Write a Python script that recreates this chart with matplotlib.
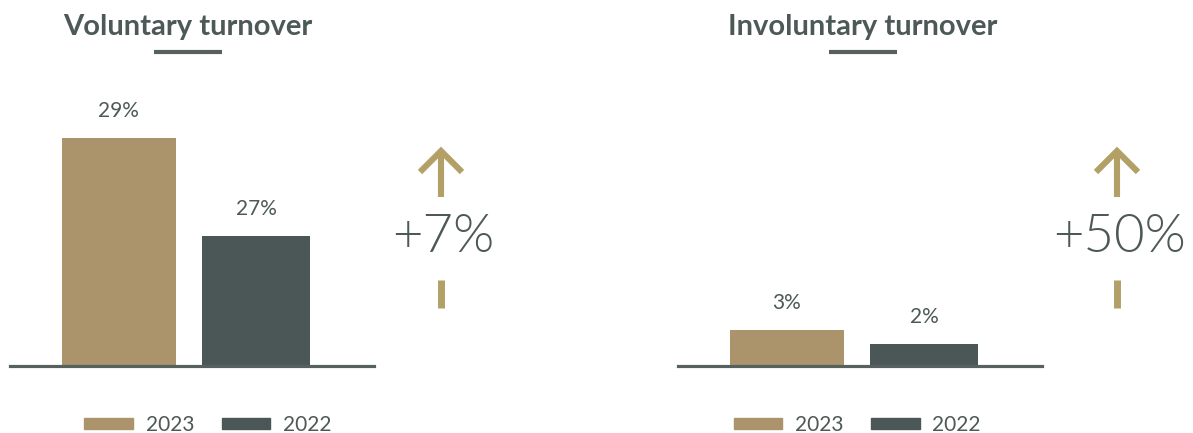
import matplotlib.pyplot as plt
from matplotlib.patches import Patch

W, H = 1193, 433

# turnover figures, per year
years = ['2023', '2022']
voluntary = [29, 27]
involuntary = [3, 2]
titles = ['Voluntary turnover', 'Involuntary turnover']
changes = ['+7%', '+50%']

tan = '#ab936b'
slate = '#4b5756'
ink = '#4d5957'
gold = '#b3a067'

plt.rcParams['font.family'] = ['Lato', 'DejaVu Sans']

fig = plt.figure(figsize=(W / 100, H / 100), dpi=100)


def px_axes(x0, y0, x1, y1):
    # axes placed by pixel box (top-left origin)
    return fig.add_axes([x0 / W, 1 - y1 / H, (x1 - x0) / W, (y1 - y0) / H])


# layout of each panel: plot box, y range, title centre, arrow column
layout = [
    dict(box=(10, 60, 374, 366), ylim=(24.35, 30.6), title_x=188, arrow_x=441, legend_x=208),
    dict(box=(678, 60, 1042, 366), ylim=(0.43, 22.29), title_x=863, arrow_x=1117, legend_x=857),
]

overlay = fig.add_axes([0, 0, 1, 1])
overlay.set_xlim(0, W)
overlay.set_ylim(H, 0)
overlay.axis('off')

for vals, title, change, lay in zip([voluntary, involuntary], titles, changes, layout):
    ax = px_axes(*lay['box'])
    ax.bar(range(len(vals)), vals, width=[0.83, 0.79], color=[tan, slate])
    ax.set_xlim(-0.79, 1.857)
    ax.set_ylim(*lay['ylim'])
    for spine in ['top', 'left', 'right']:
        ax.spines[spine].set_visible(False)
    ax.spines['bottom'].set_color('#56615f')
    ax.spines['bottom'].set_linewidth(2.3)
    ax.set_xticks([])
    ax.set_yticks([])
    ax.patch.set_alpha(0)

    for i, v in enumerate(vals):
        ax.annotate(f'{v}%', (i, v), xytext=(0, 27), textcoords='offset pixels',
                    ha='center', va='center', fontsize=15, color=ink)

    ax.legend(handles=[Patch(color=tan, label=years[0]), Patch(color=slate, label=years[1])],
              loc='center', bbox_to_anchor=(lay['legend_x'] / W, 1 - 425 / H),
              bbox_transform=fig.transFigure, ncol=2, frameon=False,
              handlelength=2.35, handleheight=0.43, handletextpad=0.6,
              columnspacing=1.3, fontsize=15, labelcolor=ink)

    # title with short rule under it
    tx = lay['title_x']
    overlay.text(tx, 27, title, ha='center', va='center', fontsize=21,
                 fontweight='bold', color=ink)
    overlay.plot([tx - 34, tx + 34], [52, 52], color='#56615f', lw=3, solid_capstyle='butt')

    # up arrow with change figure
    axx = lay['arrow_x']
    overlay.plot([axx, axx], [151, 197], color=gold, lw=4.4, solid_capstyle='butt')
    overlay.plot([axx - 21, axx, axx + 21], [172, 151, 172], color=gold, lw=4.4,
                 solid_capstyle='butt', solid_joinstyle='miter')
    overlay.plot([axx, axx], [280, 308], color=gold, lw=5, solid_capstyle='butt')
    overlay.text(axx + 2, 237, change, ha='center', va='center', fontsize=38,
                 fontweight=300, color=ink)

fig.savefig('out.png', dpi=100)
